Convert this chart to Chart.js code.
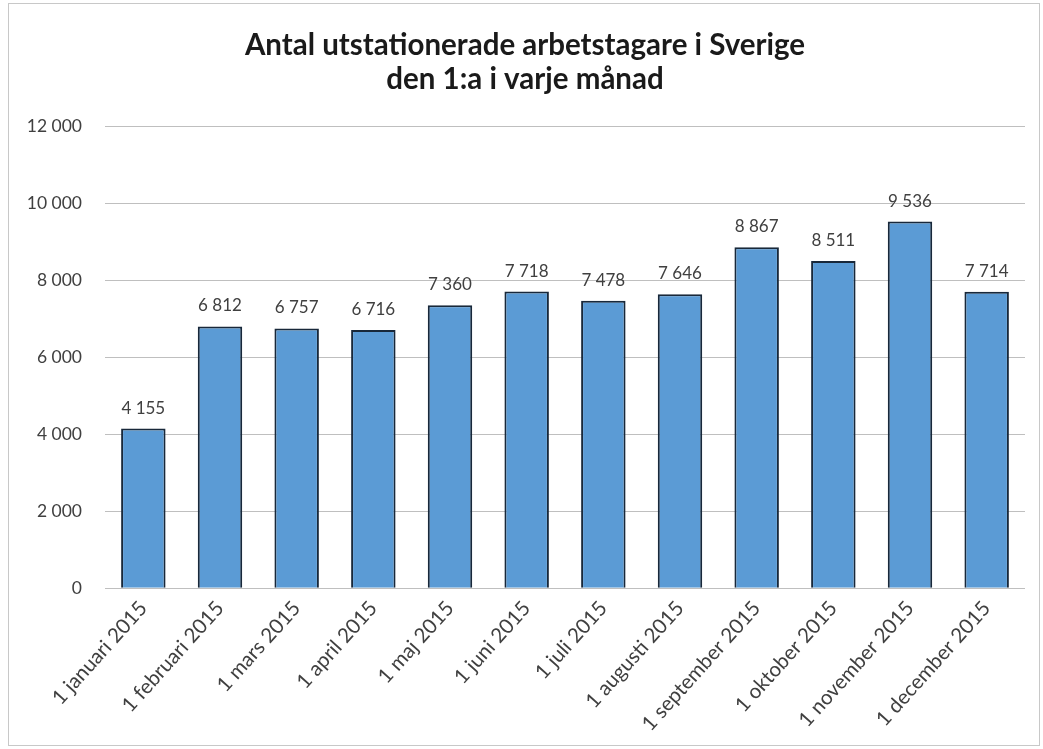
<!DOCTYPE html>
<html>
<head>
<meta charset="utf-8">
<script src="https://cdn.jsdelivr.net/npm/chart.js@4"></script>
<style>
  body { margin: 0; background: #fff; }
  canvas { display: block; }
</style>
</head>
<body>
<canvas id="chart" width="1043" height="749"></canvas>
<script>
// Data
const months = ['1 januari 2015', '1 februari 2015', '1 mars 2015', '1 april 2015', '1 maj 2015', '1 juni 2015',
  '1 juli 2015', '1 augusti 2015', '1 september 2015', '1 oktober 2015', '1 november 2015', '1 december 2015'];
const workers = [4155, 6812, 6757, 6716, 7360, 7718, 7478, 7646, 8867, 8511, 9536, 7714];
const titleLines = ['Antal utstationerade arbetstagare i Sverige', 'den 1:a i varje månad'];

// swedish style thousands: "12 000"
function fmt(v) {
  return String(v).replace(/\B(?=(\d{3})+(?!\d))/g, ' ');
}

// values above the bars + frame around the chart
const labelPlugin = {
  id: 'labels',
  beforeDraw(chart) {
    const ctx = chart.ctx;
    ctx.save();
    ctx.strokeStyle = '#c8c8c8';
    ctx.lineWidth = 1;
    ctx.strokeRect(8.5, 3.5, chart.width - 12, chart.height - 7);
    ctx.restore();
  },
  afterDatasetsDraw(chart) {
    const ctx = chart.ctx;
    const meta = chart.getDatasetMeta(0);
    ctx.save();
    ctx.font = '17px Lato, "Open Sans", sans-serif';
    ctx.fillStyle = '#404040';
    ctx.textAlign = 'center';
    ctx.textBaseline = 'bottom';
    meta.data.forEach((bar, i) => {
      ctx.fillText(fmt(chart.data.datasets[0].data[i]), bar.x, bar.y - 12);
    });
    ctx.restore();
  }
};

new Chart(document.getElementById('chart').getContext('2d'), {
  type: 'bar',
  data: {
    labels: months,
    datasets: [{
      data: workers,
      backgroundColor: '#5b9bd5',
      borderColor: '#18283a',
      borderWidth: 2,
      categoryPercentage: 1,
      barPercentage: 0.58
    }]
  },
  options: {
    responsive: false,
    animation: false,
    devicePixelRatio: 1,
    layout: { padding: { left: 25, right: 18, top: 13, bottom: 5 } },
    plugins: {
      legend: { display: false },
      tooltip: { enabled: false },
      title: {
        display: true,
        text: titleLines,
        color: '#1a1a1a',
        font: { family: 'Lato, "Open Sans", sans-serif', size: 29.5, weight: 'bold', lineHeight: 1.15 },
        padding: { top: 16, bottom: 30 }
      }
    },
    scales: {
      x: {
        grid: { display: false, drawTicks: false },
        border: { display: false },
        ticks: {
          color: '#404040',
          font: { family: 'Lato, "Open Sans", sans-serif', size: 20.5 },
          minRotation: 48,
          maxRotation: 48,
          padding: 8
        },
        afterFit: s => { s.paddingLeft = 0; }
      },
      y: {
        min: 0,
        max: 12000,
        grid: { color: '#bfbfbf', drawTicks: false },
        border: { display: false },
        ticks: {
          stepSize: 2000,
          color: '#404040',
          padding: 23,
          font: { family: 'Lato, "Open Sans", sans-serif', size: 17.5 },
          callback: v => fmt(v)
        },
        // axis comes out too wide by default, pin it
        afterFit: s => { s.width = 80; }
      }
    }
  },
  plugins: [labelPlugin]
});
</script>
</body>
</html>
